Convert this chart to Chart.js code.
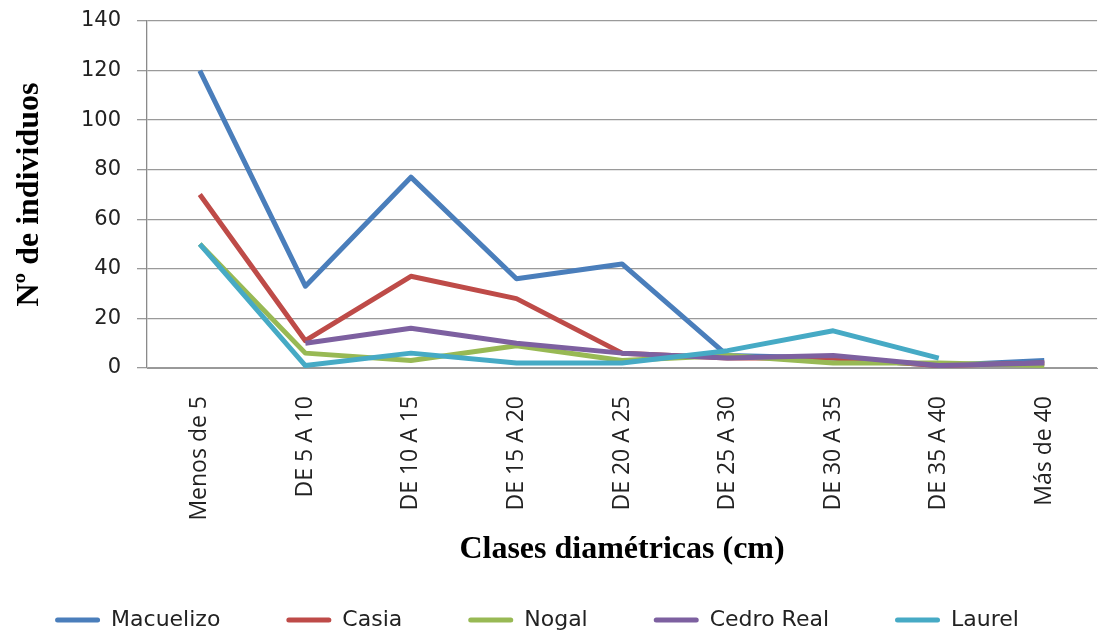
<!DOCTYPE html>
<html>
<head>
<meta charset="utf-8">
<script src="https://cdn.jsdelivr.net/npm/chart.js@4"></script>
<style>
  body { margin: 0; background: #fff; }
  #wrap { width: 1100px; height: 635px; }
</style>
</head>
<body>
<div id="wrap"><canvas id="myChart" width="1100" height="635"></canvas></div>
<script>
// data
const categories = ["Menos de 5", "DE 5 A 10", "DE 10 A 15", "DE 15 A 20", "DE 20 A 25",
  "DE 25 A 30", "DE 30 A 35", "DE 35 A 40", "Más de 40"];
const macuelizo = [120, 33, 77, 36, 42, 5, 4, 1, 3];
const casia = [70, 11, 37, 28, 6, 4, 4, 1, 2];
const nogal = [50, 6, 3, 9, 3, 5, 2, 2, 1];
const cedroReal = [null, 10, 16, 10, 6, 4, 5, 1, 2];
const laurel = [50, 1, 6, 2, 2, 7, 15, 4, null];
const yTicks = [0, 20, 40, 60, 80, 100, 120, 140];

const seriesNames = ["Macuelizo", "Casia", "Nogal", "Cedro Real", "Laurel"];
const seriesData = [macuelizo, casia, nogal, cedroReal, laurel];
const colors = ["#4a7ebb", "#be4b48", "#98b954", "#7d60a0", "#46aac5"];

const datasets = seriesNames.map((name, i) => ({
  label: name,
  data: seriesData[i],
  borderColor: colors[i],
  backgroundColor: colors[i],
  borderWidth: 5,
  pointRadius: 0,
  tension: 0,
  borderJoinStyle: "round",
  order: seriesNames.length - i  // later series drawn on top, like Excel
}));

const ctx = document.getElementById("myChart").getContext("2d");
const myChart = new Chart(ctx, {
  type: "line",
  data: { labels: categories, datasets: datasets },
  options: {
    responsive: false,
    animation: false,
    // negative left padding just nudges the centred legend to the left
    layout: { padding: { top: 21, right: 2, left: -24, bottom: -6 } },
    plugins: {
      tooltip: { enabled: false },
      legend: {
        position: "bottom",
        labels: {
          boxWidth: 45,
          boxHeight: 5,
          padding: 66,
          color: "#222",
          font: { family: "DejaVu Sans", size: 22 },
          useBorderRadius: true,
          borderRadius: 2.5,
          generateLabels: (chart) => {
            const items = Chart.defaults.plugins.legend.labels.generateLabels(chart);
            items.forEach((it) => { it.fillStyle = colors[it.datasetIndex]; it.lineWidth = 0; });
            return items.sort((a, b) => a.datasetIndex - b.datasetIndex);
          }
        }
      }
    },
    scales: {
      x: {
        offset: true,
        grid: { display: false, drawTicks: false },
        border: { display: true, color: "#999" },
        ticks: {
          color: "#222",
          font: { family: "Open Sans", size: 23 },
          minRotation: 90,
          maxRotation: 90,
          padding: 28
        },
        title: {
          display: true,
          text: "Clases diamétricas (cm)",
          color: "#000",
          font: { family: "Liberation Serif", size: 32, weight: "bold", lineHeight: 1 },
          padding: { top: 0, bottom: -23 }
        },
        afterFit: (scale) => { scale.height = 175; }
      },
      y: {
        min: 0,
        max: 140,
        afterBuildTicks: (scale) => { scale.ticks = yTicks.map((v) => ({ value: v })); },
        grid: { color: "#9a9a9a", lineWidth: 1.3, tickLength: 10, drawTicks: true },
        border: { display: true, color: "#8a8a8a", width: 1.3 },
        ticks: {
          color: "#222",
          font: { family: "DejaVu Sans", size: 21 },
          padding: 16
        },
        title: {
          display: true,
          text: "Nº de individuos",
          color: "#000",
          font: { family: "Liberation Serif", size: 32, weight: "bold", lineHeight: 1 },
          padding: { top: 38, bottom: 0 }
        },
        afterFit: (scale) => {
          scale.width = 171;
          scale.paddingTop = 0;
          scale.paddingBottom = 0;
        }
      }
    }
  }
});
</script>
</body>
</html>
